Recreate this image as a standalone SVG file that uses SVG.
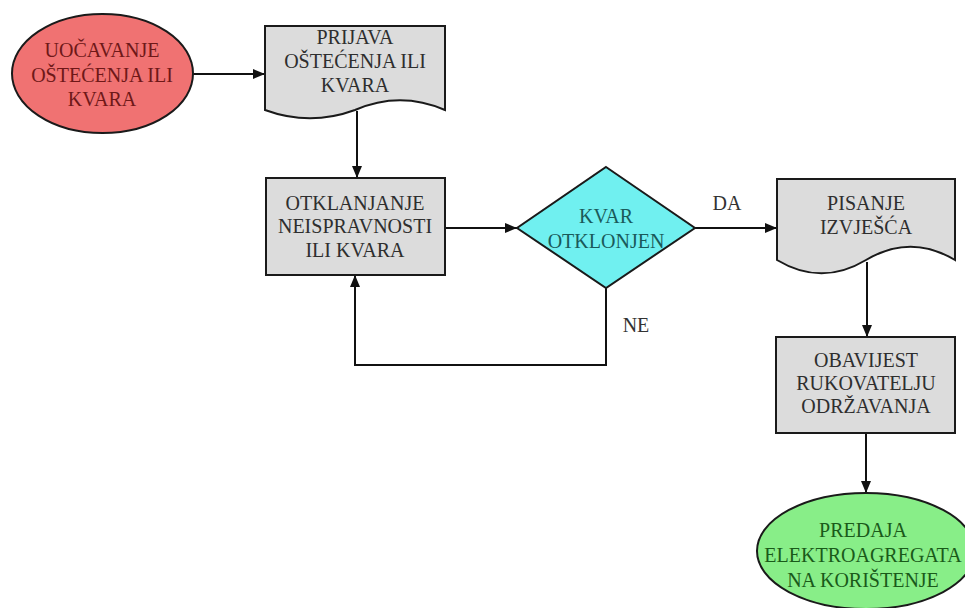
<svg xmlns="http://www.w3.org/2000/svg" width="965" height="608" viewBox="0 0 965 608">
<defs>
<style>
.sh{stroke:#1a1a1a;stroke-width:2}
.gray{fill:#dcdcdc}
.t{font-family:"Liberation Serif","Times New Roman",serif;font-size:20px;text-anchor:middle}
.tg{fill:#2e2e2e}
.tr{fill:#6e1818}
.tc{fill:#1a5a5a}
.tgr{fill:#1a5a1a}
.lbl{fill:#333333}
.c{fill:none;stroke:#111;stroke-width:2}
</style>
<marker id="ah" markerWidth="12" markerHeight="10" refX="12" refY="5" orient="auto" markerUnits="userSpaceOnUse">
<path d="M0,0 L12,5 L0,10 Z" fill="#111"/>
</marker>
</defs>
<rect width="965" height="608" fill="#ffffff"/>

<g id="connectors">
<line class="c" x1="193" y1="74" x2="265" y2="74" marker-end="url(#ah)"/>
<line class="c" x1="357" y1="111" x2="357" y2="178" marker-end="url(#ah)"/>
<line class="c" x1="445" y1="228" x2="517" y2="228" marker-end="url(#ah)"/>
<line class="c" x1="695" y1="228" x2="777" y2="228" marker-end="url(#ah)"/>
<polyline class="c" points="606,288 606,365 355,365 355,275" marker-end="url(#ah)"/>
<line class="c" x1="867" y1="262" x2="867" y2="337" marker-end="url(#ah)"/>
<line class="c" x1="866" y1="433" x2="866" y2="493" marker-end="url(#ah)"/>
<text class="t lbl" x="727" y="210">DA</text>
<text class="t lbl" x="636" y="332">NE</text>
</g>

<g id="n1">
<ellipse class="sh" cx="102.5" cy="73.5" rx="90.5" ry="59.5" fill="#f07272"/>
<text class="t tr" x="102" y="57">UOČAVANJE</text>
<text class="t tr" x="102" y="82">OŠTEĆENJA ILI</text>
<text class="t tr" x="102" y="106">KVARA</text>
</g>

<g id="n2">
<path class="sh gray" d="M265,26 H445 V110 C415,97 385,97 355,110 C325,121 295,121 265,110 Z"/>
<text class="t tg" x="355" y="44">PRIJAVA</text>
<text class="t tg" x="355" y="68">OŠTEĆENJA ILI</text>
<text class="t tg" x="355" y="92">KVARA</text>
</g>

<g id="n3">
<rect class="sh gray" x="266" y="178" width="179" height="97"/>
<text class="t tg" x="355" y="210">OTKLANJANJE</text>
<text class="t tg" x="355" y="233">NEISPRAVNOSTI</text>
<text class="t tg" x="355" y="257">ILI KVARA</text>
</g>

<g id="n4">
<polygon class="sh" points="606,167 695,228 606,288 517,228" fill="#70f0f0"/>
<text class="t tc" x="606" y="223">KVAR</text>
<text class="t tc" x="606" y="248">OTKLONJEN</text>
</g>

<g id="n5">
<path class="sh gray" d="M777,179 H955 V260 C925,242 896,242 866,260 C836,278 807,278 777,260 Z"/>
<text class="t tg" x="866" y="210">PISANJE</text>
<text class="t tg" x="866" y="234">IZVJEŠĆA</text>
</g>

<g id="n6">
<rect class="sh gray" x="776" y="337" width="179" height="96"/>
<text class="t tg" x="866" y="367">OBAVIJEST</text>
<text class="t tg" x="866" y="390">RUKOVATELJU</text>
<text class="t tg" x="866" y="413">ODRŽAVANJA</text>
</g>

<g id="n7">
<ellipse class="sh" cx="866" cy="551" rx="109" ry="58" fill="#88ee88"/>
<text class="t tgr" x="863" y="537">PREDAJA</text>
<text class="t tgr" x="863" y="562">ELEKTROAGREGATA</text>
<text class="t tgr" x="863" y="587">NA KORIŠTENJE</text>
</g>
</svg>
